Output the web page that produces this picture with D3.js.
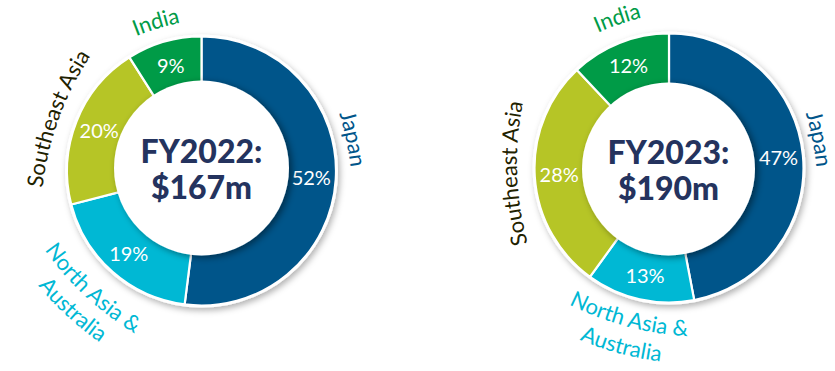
<!DOCTYPE html>
<html>
<head>
<meta charset="utf-8">
<script src="https://cdn.jsdelivr.net/npm/d3@7"></script>
<style>
  html, body { margin: 0; padding: 0; background: #ffffff; }
  svg { display: block; }
</style>
</head>
<body>
<div id="chart"></div>
<script>
// ---------------- data ----------------
const regions = ["Japan", "North Asia & Australia", "Southeast Asia", "India"];
const fy2022Values = [52, 19, 20, 9];
const fy2023Values = [47, 13, 28, 12];
const years = ["FY2022:", "FY2023:"];
const totals = ["$167m", "$190m"];
const regionColors = ["#00558a", "#00b8d4", "#b6c526", "#009b47"];
const labelColors = ["#00558a", "#00b8d4", "#1f2200", "#009b47"];

// ---------------- layout ----------------
const W = 835, H = 371;
const charts = [
  {
    values: fy2022Values, year: years[0], total: totals[0],
    cx: 201.5, cy: 171, outer: 134.5, inner: 80, hole: 87.5, holeCx: 201.5, holeCy: 168,
    labels: [
      { region: 3, lines: ["India"], angle: -17, r: [149], dir: "cw" },
      { region: 0, lines: ["Japan"], angle: 78, r: [148], dir: "cw" },
      { region: 2, lines: ["Southeast Asia"], angle: -70, r: [152], dir: "cw" },
      { region: 1, lines: ["North Asia &", "Australia"], angle: 222.8, r: [171, 198], dir: "ccw" }
    ]
  },
  {
    values: fy2023Values, year: years[1], total: totals[1],
    cx: 669, cy: 168, outer: 134.5, inner: 80, hole: 86.5, holeCx: 668.5, holeCy: 169,
    labels: [
      { region: 3, lines: ["India"], angle: -19, r: [152], dir: "cw" },
      { region: 0, lines: ["Japan"], angle: 79, r: [146], dir: "cw" },
      { region: 2, lines: ["Southeast Asia"], angle: -92, r: [152], dir: "cw" },
      { region: 1, lines: ["North Asia &", "Australia"], angle: 195, r: [164, 192], dir: "ccw" }
    ]
  }
];

const FONT = "Lato, 'Open Sans', sans-serif";
const svg = d3.select("#chart").append("svg")
  .attr("width", W).attr("height", H).attr("viewBox", `0 0 ${W} ${H}`);

const defs = svg.append("defs");
defs.append("filter").attr("id", "ringShadow")
  .attr("x", "-20%").attr("y", "-20%").attr("width", "140%").attr("height", "140%")
  .append("feDropShadow").attr("dx", 2).attr("dy", 3).attr("stdDeviation", 3)
  .attr("flood-color", "#000").attr("flood-opacity", 0.3);
defs.append("filter").attr("id", "holeShadow")
  .attr("x", "-20%").attr("y", "-20%").attr("width", "140%").attr("height", "140%")
  .append("feDropShadow").attr("dx", 3).attr("dy", 2).attr("stdDeviation", 3.5)
  .attr("flood-color", "#000").attr("flood-opacity", 0.45);

const pie = d3.pie().sort(null).value(d => d);
const rad = a => a * Math.PI / 180;
const CURV = 300; // curvature radius of label paths

charts.forEach((c, ci) => {
  const g = svg.append("g");
  const arcs = pie(c.values);
  const arcGen = d3.arc().innerRadius(c.inner).outerRadius(c.outer);
  const labelArc = d3.arc().innerRadius(110).outerRadius(110);

  // ring with outer white border + shadow
  const ring = g.append("g").attr("transform", `translate(${c.cx},${c.cy})`);
  ring.append("circle").attr("r", c.outer + 2)
    .attr("fill", "#fff").attr("filter", "url(#ringShadow)");
  ring.selectAll("path.slice").data(arcs).enter().append("path")
    .attr("class", "slice")
    .attr("d", arcGen)
    .attr("fill", (d, i) => regionColors[i])
    .attr("stroke", "#fff").attr("stroke-width", 2.2).attr("stroke-linejoin", "round");

  // centre hole
  g.append("circle").attr("cx", c.holeCx).attr("cy", c.holeCy).attr("r", c.hole)
    .attr("fill", "#fff").attr("filter", "url(#holeShadow)");

  // percentage labels
  ring.selectAll("text.pct").data(arcs).enter().append("text")
    .attr("class", "pct")
    .attr("transform", d => `translate(${labelArc.centroid(d)})`)
    .attr("text-anchor", "middle").attr("dy", "0.36em")
    .attr("fill", "#fff")
    .style("font-family", FONT).style("font-size", "20px").style("font-weight", 400)
    .text(d => d.data + "%");

  // centre title
  const t = g.append("text").attr("text-anchor", "middle")
    .attr("fill", "#24335e")
    .style("font-family", FONT).style("font-weight", 900).style("font-size", "32px");
  t.append("tspan").attr("x", c.holeCx).attr("y", c.holeCy - 5).text(c.year);
  t.append("tspan").attr("x", c.holeCx).attr("y", c.holeCy + 31).text(c.total);

  // curved region labels
  c.labels.forEach((lab, li) => {
    lab.lines.forEach((line, k) => {
      const r = lab.r[k];
      const th = rad(lab.angle);
      const ux = Math.sin(th), uy = -Math.cos(th);
      const px = c.cx + r * ux, py = c.cy + r * uy;
      const ccx = px - CURV * ux, ccy = py - CURV * uy;
      const pt = a => [ccx + CURV * Math.sin(a), ccy - CURV * Math.cos(a)];
      let d;
      if (lab.dir === "cw") {
        const s = pt(th - Math.PI / 2), e = pt(th + Math.PI / 2);
        d = `M${s[0]},${s[1]} A${CURV},${CURV} 0 0 1 ${e[0]},${e[1]}`;
      } else {
        const s = pt(th + Math.PI / 2), e = pt(th - Math.PI / 2);
        d = `M${s[0]},${s[1]} A${CURV},${CURV} 0 0 0 ${e[0]},${e[1]}`;
      }
      const id = `lp-${ci}-${li}-${k}`;
      defs.append("path").attr("id", id).attr("d", d);
      g.append("text")
        .attr("fill", labelColors[lab.region])
        .style("font-family", FONT).style("font-size", "22px").style("font-weight", 400)
        .append("textPath").attr("href", `#${id}`)
        .attr("startOffset", "50%").attr("text-anchor", "middle")
        .text(line);
    });
  });
});
</script>
</body>
</html>
